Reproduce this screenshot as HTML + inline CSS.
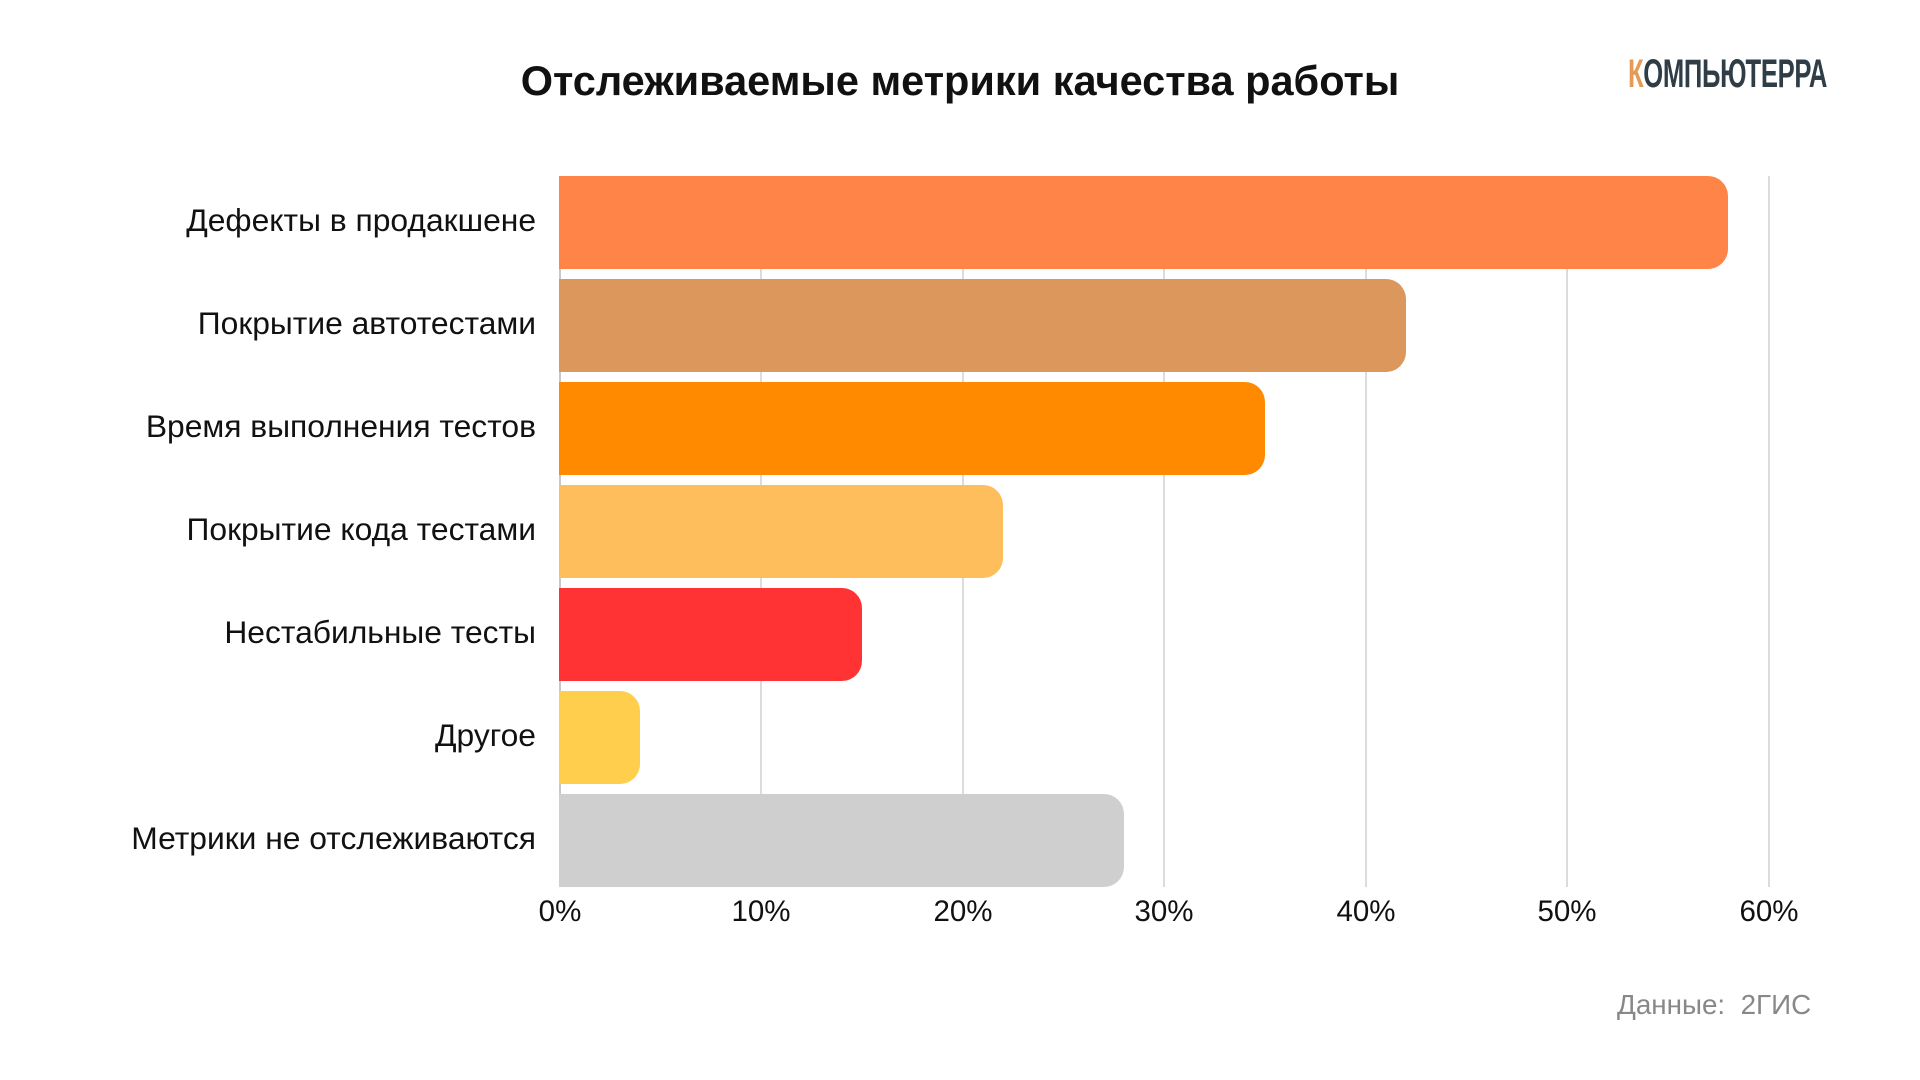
<!DOCTYPE html>
<html><head><meta charset="utf-8"><style>
body{margin:0;width:1920px;height:1080px;background:#fff;font-family:"Liberation Sans","Noto Sans CJK SC",sans-serif;position:relative;overflow:hidden}
.t{position:absolute;white-space:nowrap}
.g{position:absolute;top:176px;height:711px;width:2px;background:#dcdcdc}
.bar{position:absolute;left:559px;height:93px;border-radius:0 20px 20px 0}
.lab{position:absolute;right:1384px;font-size:31.8px;color:#111;line-height:89px;white-space:nowrap}
.tick{position:absolute;top:895px;font-size:29.5px;color:#111;width:100px;margin-left:-50px;text-align:center}
</style></head><body>
<div class="t" style="left:0;width:1920px;text-align:center;top:57px;font-size:41.5px;font-weight:bold;color:#111;">Отслеживаемые метрики качества работы</div>
<div class="t" style="left:1628px;top:52px;font-size:40px;font-weight:bold;color:#2f3d47;transform:scaleX(0.64);transform-origin:left;letter-spacing:-0.5px"><span style="color:#e59a55">К</span>ОМПЬЮТЕРРА</div>

<div class="g" style="left:559px;background:#c8c8c8"></div>
<div class="g" style="left:760px"></div>
<div class="g" style="left:962px"></div>
<div class="g" style="left:1163px"></div>
<div class="g" style="left:1365px"></div>
<div class="g" style="left:1566px"></div>
<div class="g" style="left:1768px"></div>

<div class="bar" style="top:176px;width:1169px;background:#ff8448"></div>
<div class="bar" style="top:279px;width:847px;background:#dc975c"></div>
<div class="bar" style="top:382px;width:706px;background:#ff8a00"></div>
<div class="bar" style="top:485px;width:444px;background:#febe5b"></div>
<div class="bar" style="top:588px;width:303px;background:#ff3333"></div>
<div class="bar" style="top:691px;width:81px;background:#fece4c"></div>
<div class="bar" style="top:794px;width:565px;background:#d0cfd0"></div>

<div class="lab" style="top:176px">Дефекты в продакшене</div>
<div class="lab" style="top:279px">Покрытие автотестами</div>
<div class="lab" style="top:382px">Время выполнения тестов</div>
<div class="lab" style="top:485px">Покрытие кода тестами</div>
<div class="lab" style="top:588px">Нестабильные тесты</div>
<div class="lab" style="top:691px">Другое</div>
<div class="lab" style="top:794px">Метрики не отслеживаются</div>

<div class="tick" style="left:560px">0%</div>
<div class="tick" style="left:761px">10%</div>
<div class="tick" style="left:963px">20%</div>
<div class="tick" style="left:1164px">30%</div>
<div class="tick" style="left:1366px">40%</div>
<div class="tick" style="left:1567px">50%</div>
<div class="tick" style="left:1769px">60%</div>

<div class="t" style="left:1617px;top:989px;font-size:27.8px;color:#888">Данные:&nbsp; 2ГИС</div>
</body></html>
